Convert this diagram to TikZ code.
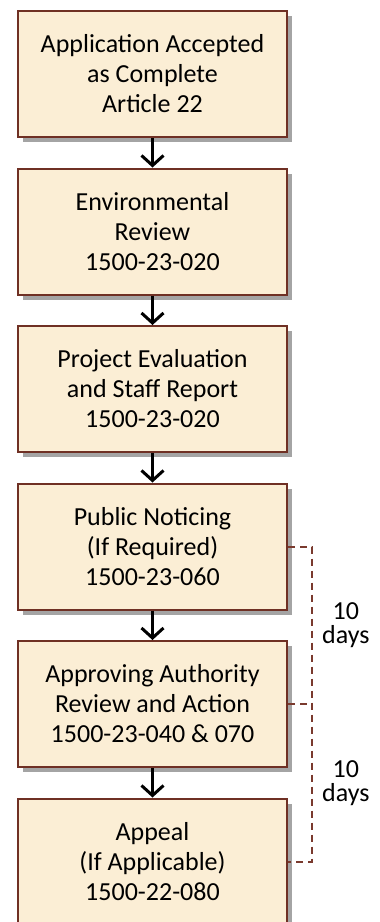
\documentclass[tikz,border=0pt]{standalone}
\usepackage{fontspec}
\setmainfont{Carlito}
\usepackage{tikz}
\usetikzlibrary{arrows.meta,positioning,shadows}
\definecolor{boxcream}{HTML}{FBEED5}
\definecolor{boxbrown}{HTML}{6F3024}
\definecolor{dashbrown}{HTML}{7A3A2E}
\definecolor{shadowgray}{HTML}{A4A4A4}
\tikzstyle{stage} = [draw=boxbrown,line width=2pt,fill=boxcream,minimum width=269pt,minimum height=126pt,align=center,inner sep=0,font=\fontsize{26}{30}\selectfont,drop shadow={shadow xshift=5pt,shadow yshift=-5pt,fill=shadowgray,opacity=1}]
\tikzstyle{flow} = [-{Straight Barb[length=10pt,width=22pt]},line width=3pt,black]
\tikzstyle{bracket} = [draw=dashbrown,line width=2pt,dash pattern=on 7pt off 5pt]
\tikzstyle{gaplabel} = [align=center,inner sep=0,font=\fontsize{26}{24}\selectfont]

\begin{document}
\begin{tikzpicture}[x=1pt,y=1pt,auto,node distance=29.5pt]
      \useasboundingbox (0,0) rectangle (380,-922);
      \node[stage] (acc) at (152.5,-74) {Application Accepted\\as Complete\\Article 22};
      \node[stage,below=of acc] (env) {Environmental\\Review\\1500-23-020};
      \node[stage,below=of env] (eval) {Project Evaluation\\and Staff Report\\1500-23-020};
      \node[stage,below=of eval] (pub) {Public Noticing\\(If Required)\\1500-23-060};
      \node[stage,below=of pub] (appr) {Approving Authority\\Review and Action\\1500-23-040 \& 070};
      \node[stage,below=of appr] (appeal) {Appeal\\(If Applicable)\\1500-22-080};
      \draw[flow] (acc.south) -- (env.north);
      \draw[flow] (env.south) -- (eval.north);
      \draw[flow] (eval.south) -- (pub.north);
      \draw[flow] (pub.south) -- (appr.north);
      \draw[flow] (appr.south) -- (appeal.north);
      % ten day bracket
      \coordinate[right=24pt of pub.east] (brk1);
      \coordinate[right=24pt of appr.east] (brk2);
      \coordinate[right=24pt of appeal.east] (brk3);
      \draw[bracket] (pub.east) -- (brk1) -- (brk2) -- (brk3) -- (appeal.east);
      \draw[bracket] (appr.east) -- (brk2);
      \path (brk1) -- (brk2) node[midway,right=10pt,gaplabel] (gap1) {10\\days};
      \path (brk2) -- (brk3) node[midway,right=10pt,gaplabel] (gap2) {10\\days};
    \end{tikzpicture}
\end{document}
